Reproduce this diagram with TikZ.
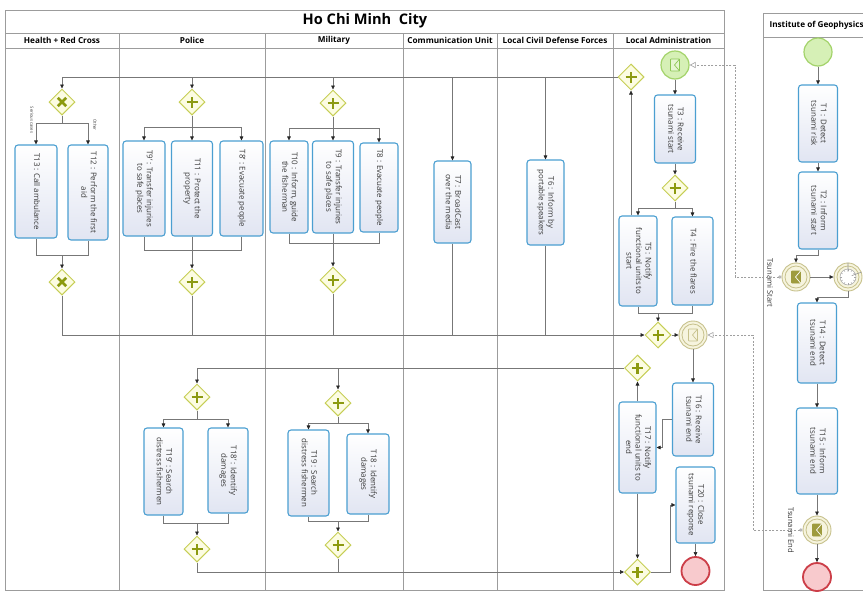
\documentclass[tikz,border=0pt]{standalone}
\usepackage{fontspec}
\setmainfont{Open Sans}
\usetikzlibrary{shapes.geometric,arrows.meta,calc}

\definecolor{poolline}{HTML}{9C9C9C}
\definecolor{taskline}{HTML}{4B9FD1}
\definecolor{taskfill}{HTML}{E1E5F2}
\definecolor{gwline}{HTML}{C6CE55}
\definecolor{gwfill}{HTML}{FCFCE2}
\definecolor{gwmark}{HTML}{8C9A10}
\definecolor{flowline}{HTML}{777777}
\definecolor{startline}{HTML}{A3D36A}
\definecolor{startfill}{HTML}{D6F0B6}
\definecolor{iconline}{HTML}{8CC655}
\definecolor{iconfill}{HTML}{E6F6D3}
\definecolor{midline}{HTML}{C7C18C}
\definecolor{midfill}{HTML}{F6F4DE}
\definecolor{throwfill}{HTML}{9E9B3E}
\definecolor{endline}{HTML}{CC3E48}
\definecolor{endfill}{HTML}{F8CACD}
\definecolor{textgray}{HTML}{383838}

% rotated (top-to-bottom) task caption
\newcommand\tasklabel[1]{\rotatebox{-90}{\begin{tabular}{@{}c@{}}#1\end{tabular}}}
% rotated envelope icon: node, fill, stroke, flap colour
\newcommand\envicon[4]{%
  \draw[#3, fill=#2, line width=0.6pt, rounded corners=0.6pt] ($(#1)+(-4.5,-6)$) rectangle ($(#1)+(4.5,6)$);
  \draw[#4, line width=0.7pt] ($(#1)+(4.5,-6)$) -- ($(#1)+(-0.5,0)$) -- ($(#1)+(4.5,6)$);}

\begin{document}
\begin{tikzpicture}[x=1pt,y=-1pt,
  pool/.style={draw=poolline, line width=0.8pt},
  lanehead/.style={font=\bfseries\fontsize{8.2}{9}\selectfont, text=black},
  title/.style={font=\bfseries\fontsize{14.6}{16}\selectfont, text=black},
  task/.style={draw=taskline, line width=1.1pt, rounded corners=3pt, top color=white, bottom color=taskfill,
    inner sep=0pt, font=\fontsize{7.9}{9.4}\selectfont, text=textgray},
  gw/.style={diamond, draw=gwline, line width=1pt, fill=gwfill, minimum width=26, minimum height=26, inner sep=0pt},
  gwand/.style={gw, path picture={\draw[gwmark, line width=2.8pt]
      ([xshift=-5.5pt]path picture bounding box.center) -- ([xshift=5.5pt]path picture bounding box.center)
      ([yshift=-5.5pt]path picture bounding box.center) -- ([yshift=5.5pt]path picture bounding box.center);}},
  gwxor/.style={gw, path picture={\draw[gwmark, line width=2.5pt]
      ([shift={(-4.2pt,-4.2pt)}]path picture bounding box.center) -- ([shift={(4.2pt,4.2pt)}]path picture bounding box.center)
      ([shift={(-4.2pt,4.2pt)}]path picture bounding box.center) -- ([shift={(4.2pt,-4.2pt)}]path picture bounding box.center);}},
  startev/.style={circle, draw=startline, line width=1.2pt, fill=startfill, minimum size=28, inner sep=0pt},
  midev/.style={circle, draw=midline, line width=0.9pt, fill=midfill, minimum size=28, inner sep=0pt},
  endev/.style={circle, draw=endline, line width=1.8pt, fill=endfill, minimum size=28, inner sep=0pt},
  line/.style={draw=flowline, line width=0.6pt},
  flow/.style={line, -{Triangle[length=4pt,width=3.6pt,color=black!85]}},
  msg/.style={draw=gray!75, line width=0.6pt, dash pattern=on 2pt off 1.6pt,
    {Circle[open,length=3.2pt,fill=white]}-{Triangle[open,length=6pt,width=6pt,fill=white]}},
  evlabel/.style={font=\fontsize{7.6}{8.5}\selectfont, text=textgray, rotate=-90},
  condlabel/.style={font=\fontsize{4.2}{5}\selectfont, text=textgray, rotate=-90}
]
\useasboundingbox (0,0) rectangle (863,592);
\clip (0,0) rectangle (863,592);
\fill[white] (0,0) rectangle (863,592);

% ---------------- Ho Chi Minh City pool ----------------
\draw[pool] (5,10) rectangle (724,590);
\draw[pool] (5,33) -- (724,33);
\draw[pool] (5,48) -- (724,48);
\foreach \x in {119,265,403,497,613} \draw[pool] (\x,33) -- (\x,590);
\node[title] (ptitle) at (365,21) {Ho Chi Minh~~City};
\node[lanehead] (lh1) at (62,40.5) {Health + Red Cross};
\node[lanehead] (lh2) at (192,40.5) {Police};
\node[lanehead] (lh3) at (334,40.5) {Military};
\node[lanehead] (lh4) at (450,40.5) {Communication Unit};
\node[lanehead] (lh5) at (555,40.5) {Local Civil Defense Forces};
\node[lanehead] (lh6) at (668.5,40.5) {Local Administration};

% ---------------- Institute of Geophysics pool ----------------
\draw[pool] (763,13) rectangle (880,590);
\draw[pool] (763,37) -- (880,37);
\node[lanehead, anchor=west] (lh7) at (766,25) {Institute of Geophysics};

% ---------------- Health + Red Cross ----------------
\node[gwxor] (gh1) at (62,102) {};
\node[task, minimum width=42, minimum height=93] (t13) at (36,191.5) {\tasklabel{T13 : Call ambulance}};
\node[task, minimum width=40, minimum height=95] (t12) at (88,192.5) {\tasklabel{T12 : Perform the first\\aid}};
\node[gwxor] (gh2) at (62,282) {};
\node[condlabel] (c1) at (32,120) {Serious cases};
\node[condlabel] (c2) at (95,125) {Other};

% ---------------- Police ----------------
\node[gwand] (gp1) at (192,102) {};
\node[task, minimum width=42, minimum height=95] (t9p) at (144,188.5) {\tasklabel{T9' : Transfer injuries\\to safe places}};
\node[task, minimum width=41, minimum height=95] (t11) at (192,188.5) {\tasklabel{T11 : Protect the\\property}};
\node[task, minimum width=43, minimum height=95] (t8p) at (241.5,188.5) {\tasklabel{T8' : Evacuate people}};
\node[gwand] (gp2) at (192,282) {};

\node[gwand] (gpl1) at (197,397) {};
\node[task, minimum width=39, minimum height=87] (t19p) at (163.5,471.5) {\tasklabel{T19' : Search\\distress fishermen}};
\node[task, minimum width=40, minimum height=85] (t18p) at (228,470.5) {\tasklabel{T18' : Identify\\damages}};
\node[gwand] (gpl2) at (197,549) {};

% ---------------- Military ----------------
\node[gwand] (gm1) at (333,103) {};
\node[task, minimum width=38, minimum height=92] (t10) at (289,187) {\tasklabel{T10 : Inform, guide\\the fisherman}};
\node[task, minimum width=41, minimum height=92] (t9) at (333,187) {\tasklabel{T9 : Transfer injuries\\to safe places}};
\node[task, minimum width=38, minimum height=89] (t8) at (379,187.5) {\tasklabel{T8 : Evacuate people}};
\node[gwand] (gm2) at (333,280) {};

\node[gwand] (gml1) at (338,403) {};
\node[task, minimum width=41, minimum height=86] (t19) at (308.5,473) {\tasklabel{T19 : Search\\distress fishermen}};
\node[task, minimum width=42, minimum height=80] (t18) at (368,474) {\tasklabel{T18 : Identify\\damages}};
\node[gwand] (gml2) at (338,545) {};

% ---------------- Communication Unit / Local Civil Defense Forces ----------------
\node[task, minimum width=37, minimum height=82] (t7) at (452.5,202) {\tasklabel{T7 : BroadCast\\over the media}};
\node[task, minimum width=37, minimum height=85] (t6) at (545.5,202.5) {\tasklabel{T6 : Inform by\\portable speakers}};

% ---------------- Local Administration ----------------
\node[gwand] (g1) at (631,77) {};
\node[startev] (se1) at (675,65) {};
\envicon{se1}{iconfill}{iconline}{iconline}
\node[task, minimum width=41, minimum height=68] (t3) at (675,129) {\tasklabel{T3 : Receive\\tsunami start}};
\node[gwand] (g2) at (675,188) {};
\node[task, minimum width=38, minimum height=90] (t5) at (638,261) {\tasklabel{T5 : Notify\\functional units to\\start}};
\node[task, minimum width=41, minimum height=88] (t4) at (692.5,261) {\tasklabel{T4 : Fire the flares}};
\node[gwand] (g3) at (658,335) {};
\node[midev] (ie1) at (693,335) {};
\draw[midline, line width=0.8pt] (ie1) circle (11pt);
\envicon{ie1}{midfill}{midline}{midline}
\node[task, minimum width=41, minimum height=73] (t16) at (693,419.5) {\tasklabel{T16 : Receive\\tsunami end}};
\node[gwand] (g4) at (637.5,368) {};
\node[task, minimum width=37, minimum height=91] (t17) at (637.5,447.5) {\tasklabel{T17 : Notify\\functional units to\\end}};
\node[task, minimum width=39, minimum height=76] (t20) at (695.5,505) {\tasklabel{T20 : Close\\tsunami reponse}};
\node[gwand] (g5) at (637.5,572) {};
\node[endev] (ee1) at (695.5,571) {};

% ---------------- Institute of Geophysics ----------------
\node[startev] (se2) at (818,52) {};
\node[task, minimum width=39, minimum height=77] (t1) at (818,123.5) {\tasklabel{T1 : Detect\\tsunami risk}};
\node[task, minimum width=39, minimum height=77] (t2) at (818,210.5) {\tasklabel{T2 : Inform\\tsunami start}};
\node[midev] (te1) at (796,277) {};
\draw[midline, line width=0.8pt] (te1) circle (11pt);
\envicon{te1}{throwfill}{throwfill}{white}
\node[evlabel] (lte1) at (770,283) {Tsunami Start};
\node[midev] (tm) at (848,277) {};
\draw[midline, line width=0.8pt] (tm) circle (11pt);
\draw[gray!70, fill=white, line width=0.5pt] (tm) circle (8pt);
\foreach \a in {0,30,...,330} \draw[gray!70, line width=0.4pt] ($(tm)+(\a:6pt)$) -- ($(tm)+(\a:8pt)$);
\draw[gray!80, line width=0.6pt] ($(tm)+(90:5.5pt)$) -- (tm) -- ($(tm)+(20:4pt)$);
\node[task, minimum width=39, minimum height=80] (t14) at (817,343) {\tasklabel{T14 : Detect\\tsunami end}};
\node[task, minimum width=41, minimum height=86] (t15) at (817,451) {\tasklabel{T15 : Inform\\tsunami end}};
\node[midev] (te2) at (817,530) {};
\draw[midline, line width=0.8pt] (te2) circle (11pt);
\envicon{te2}{throwfill}{throwfill}{white}
\node[evlabel] (lte2) at (791,530) {Tsunami End};
\node[endev] (ee2) at (817,577) {};

% ---------------- branch / merge levels ----------------
\coordinate (hb) at (0,123);  \coordinate (hm) at (0,255);
\coordinate (pb) at (0,127);  \coordinate (pm) at (0,250);
\coordinate (mb) at (0,128);  \coordinate (mm) at (0,243);
\coordinate (lab) at (0,208); \coordinate (lam) at (0,313);
\coordinate (plb) at (0,419); \coordinate (plm) at (0,523);
\coordinate (mlb) at (0,423); \coordinate (mlm) at (0,521);
\coordinate (mf1) at (735,0); \coordinate (mf2) at (753,0);

% ---------------- sequence flows: start phase ----------------
\draw[flow] (se1.south) -- (se1 |- t3.north);
\draw[flow] (t3.south) -- (t3 |- g2.north);
\draw[line] (g2.south) -- (g2 |- lab);
\draw[flow] (g2 |- lab) -| (t5.north);
\draw[flow] (g2 |- lab) -| (t4.north);
\draw[flow] (g1 |- t5.north) -- (g1.south);
\draw[line] (t5.south) |- (t4.south |- lam) -- (t4.south);
\draw[flow] (g3 |- lam) -- (g3.north);

% fan-out to the functional units
\draw[flow] (g1.west) -| (gh1.north);
\draw[flow] (gp1 |- g1) -- (gp1.north);
\draw[flow] (gm1 |- g1) -- (gm1.north);
\draw[flow] (t7.north |- g1) -- (t7.north);
\draw[flow] (t6.north |- g1) -- (t6.north);

% Health + Red Cross
\draw[line] (gh1.south) -- (gh1 |- hb);
\draw[flow] (gh1 |- hb) -| (t13.north);
\draw[flow] (gh1 |- hb) -| (t12.north);
\draw[line] (t13.south) |- (t12.south |- hm) -- (t12.south);
\draw[flow] (gh2 |- hm) -- (gh2.north);

% Police
\draw[line] (gp1.south) -- (gp1 |- pb);
\draw[flow] (gp1 |- pb) -| (t9p.north);
\draw[flow] (gp1 |- pb) -- (t11.north);
\draw[flow] (gp1 |- pb) -| (t8p.north);
\draw[line] (t9p.south) |- (t8p.south |- pm) -- (t8p.south);
\draw[flow] (t11.south) -- (gp2.north);

% Military
\draw[line] (gm1.south) -- (gm1 |- mb);
\draw[flow] (gm1 |- mb) -| (t10.north);
\draw[flow] (gm1 |- mb) -- (t9.north);
\draw[flow] (gm1 |- mb) -| (t8.north);
\draw[line] (t10.south) |- (t8.south |- mm) -- (t8.south);
\draw[flow] (t9.south) -- (gm2.north);

% join of all units
\draw[flow] (gh2.south) |- (g3.west);
\draw[line] (gp2.south) -- (gp2 |- g3);
\draw[line] (gm2.south) -- (gm2 |- g3);
\draw[line] (t7.south) -- (t7.south |- g3);
\draw[line] (t6.south) -- (t6.south |- g3);
\draw[flow] (g3.east) -- (ie1.west);

% ---------------- end phase ----------------
\draw[flow] (ie1.south) -- (ie1 |- t16.north);
\draw[flow] (t16.west) -- ++(-10,0) |- (t17.east);
\draw[flow] (t17.north) -- (g4.south);
\draw[flow] (g4.west) -| (gpl1.north);
\draw[flow] (gml1 |- g4) -- (gml1.north);
\draw[flow] (t17.south) -- (g5.north);
\draw[flow] (g5.east) -- ++(19,0) |- (t20.west);
\draw[flow] (t20.south) -- (ee1.north);

\draw[line] (gpl1.south) -- (gpl1 |- plb);
\draw[flow] (gpl1 |- plb) -| (t19p.north);
\draw[flow] (gpl1 |- plb) -| (t18p.north);
\draw[line] (t19p.south) |- (t18p.south |- plm) -- (t18p.south);
\draw[flow] (gpl2 |- plm) -- (gpl2.north);

\draw[line] (gml1.south) -- (gml1 |- mlb);
\draw[flow] (gml1 |- mlb) -| (t19.north);
\draw[flow] (gml1 |- mlb) -| (t18.north);
\draw[line] (t19.south) |- (t18.south |- mlm) -- (t18.south);
\draw[flow] (gml2 |- mlm) -- (gml2.north);

\draw[flow] (gpl2.south) |- (g5.west);
\draw[line] (gml2.south) -- (gml2 |- g5);

% ---------------- Institute of Geophysics flows ----------------
\draw[flow] (se2.south) -- (t1.north);
\draw[flow] (t1.south) -- (t2.north);
\draw[flow] (t2.south) -- ++(0,6) -| (te1.north);
\draw[flow] (te1.east) -- (tm.west);
\draw[flow] (tm.south) -- ++(0,6) -| (t14.north);
\draw[flow] (t14.south) -- (t15.north);
\draw[flow] (t15.south) -- (te2.north);
\draw[flow] (te2.south) -- (ee2.north);

% ---------------- message flows ----------------
\draw[msg] (te1.west) -- (te1.west -| mf1) |- (se1.east);
\draw[msg] (te2.west) -- (te2.west -| mf2) |- (ie1.east);
\end{tikzpicture}
\end{document}
